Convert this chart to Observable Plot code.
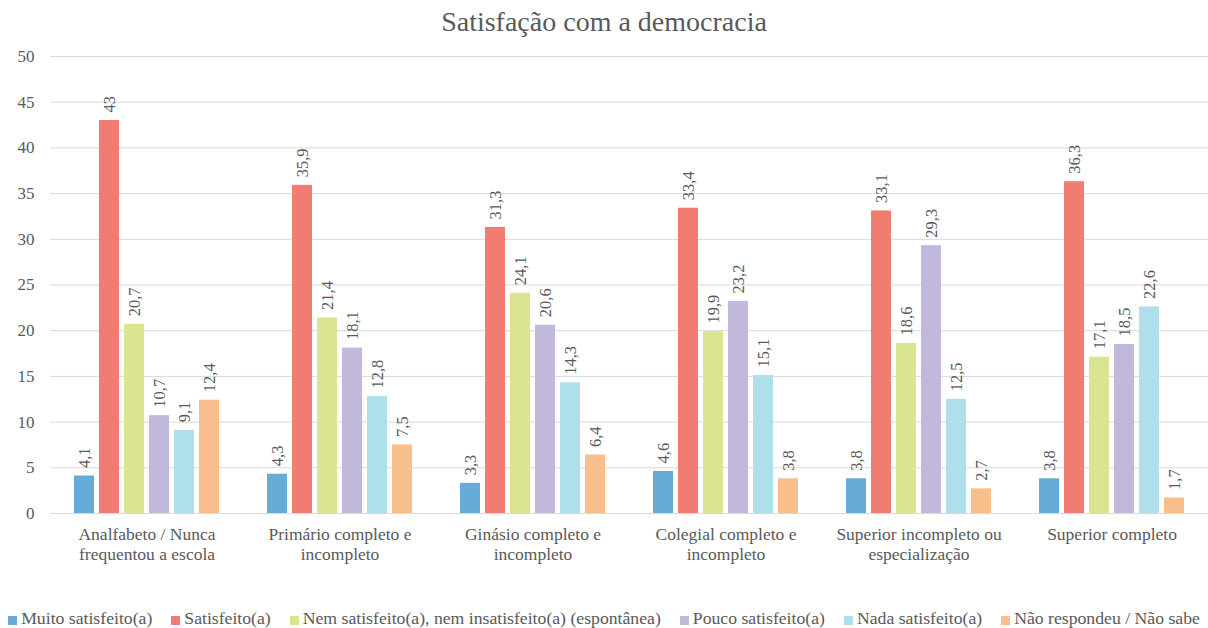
<!DOCTYPE html>
<html>
<head>
<meta charset="utf-8">
<script src="https://cdn.jsdelivr.net/npm/d3@7"></script>
<script src="https://cdn.jsdelivr.net/npm/@observablehq/plot@0.6"></script>
<style>
  html, body { margin: 0; padding: 0; background: #fff; }
  body { width: 1208px; height: 628px; overflow: hidden; color: #595959; }
  body, body * , svg text { font-family: "Liberation Serif", "Times New Roman", serif !important; }
  #title { height: 40px; line-height: 44px; text-align: center; font-size: 28px; color: #595959; }
  #legend { display: flex; justify-content: center; gap: 19px; font-size: 17.7px; margin-top: 35px; white-space: nowrap; }
  #legend .item { display: flex; align-items: center; }
  #legend .sw { display: inline-block; width: 9px; height: 9px; margin-right: 4px; margin-top: 3px; }
</style>
</head>
<body>
<div id="title">Satisfação com a democracia</div>
<div id="chart"></div>
<div id="legend"></div>
<script>
const categories = [
  "Analfabeto / Nunca\nfrequentou a escola",
  "Primário completo e\nincompleto",
  "Ginásio completo e\nincompleto",
  "Colegial completo e\nincompleto",
  "Superior incompleto ou\nespecialização",
  "Superior completo"
];
const series = [
  "Muito satisfeito(a)",
  "Satisfeito(a)",
  "Nem satisfeito(a), nem insatisfeito(a) (espontânea)",
  "Pouco satisfeito(a)",
  "Nada satisfeito(a)",
  "Não respondeu / Não sabe"
];
const colors = ["#67acd9", "#f07c72", "#dbe490", "#c2b8dc", "#b0dfec", "#f8bf8c"];

const muitoSatisfeito = [4.1, 4.3, 3.3, 4.6, 3.8, 3.8];
const satisfeito = [43, 35.9, 31.3, 33.4, 33.1, 36.3];
const nemNem = [20.7, 21.4, 24.1, 19.9, 18.6, 17.1];
const poucoSatisfeito = [10.7, 18.1, 20.6, 23.2, 29.3, 18.5];
const nadaSatisfeito = [9.1, 12.8, 14.3, 15.1, 12.5, 22.6];
const naoRespondeu = [12.4, 7.5, 6.4, 3.8, 2.7, 1.7];

const yTicks = [0, 5, 10, 15, 20, 25, 30, 35, 40, 45, 50];

const seriesValues = [muitoSatisfeito, satisfeito, nemNem, poucoSatisfeito, nadaSatisfeito, naoRespondeu];
const data = [];
categories.forEach((c, i) => {
  series.forEach((s, j) => {
    data.push({cat: c, series: s, value: seriesValues[j][i]});
  });
});

const fmt = v => String(v).replace(".", ",");
const font = "'Liberation Serif', 'Times New Roman', serif";

const plot = Plot.plot({
  width: 1208,
  height: 533,
  marginTop: 16,
  marginBottom: 60,
  marginLeft: 50,
  marginRight: 0,
  style: {fontFamily: font, fontSize: "17px", color: "#595959", background: "white"},
  fx: {domain: categories, paddingInner: 0, paddingOuter: 0, axis: null},
  x: {domain: series, paddingInner: 0.213, paddingOuter: 0.85, axis: null},
  y: {domain: [0, 50], ticks: yTicks, tickSize: 0, tickPadding: 16, tickFormat: d => d, label: null},
  color: {domain: series, range: colors},
  marks: [
    Plot.ruleY(yTicks, {stroke: "#d9d9d9", strokeWidth: 1}),
    Plot.barY(data, {fx: "cat", x: "series", y: "value", fill: "series", inset: 0}),
    Plot.text(data, {
      fx: "cat", x: "series", y: "value",
      text: d => fmt(d.value),
      rotate: -90, textAnchor: "start", dy: -8,
      fill: "#595959", fontSize: 16.5, fontFamily: font
    }),
    Plot.text(categories, {
      fx: d => d, text: d => d,
      frameAnchor: "bottom", lineAnchor: "top", dy: 12,
      lineHeight: 1.15,
      fill: "#595959", fontSize: 17.5, fontFamily: font
    })
  ]
});
document.getElementById("chart").appendChild(plot);

const legend = document.getElementById("legend");
series.forEach((s, i) => {
  const item = document.createElement("span");
  item.className = "item";
  const sw = document.createElement("span");
  sw.className = "sw";
  sw.style.background = colors[i];
  item.appendChild(sw);
  item.appendChild(document.createTextNode(s));
  legend.appendChild(item);
});
</script>
</body>
</html>
